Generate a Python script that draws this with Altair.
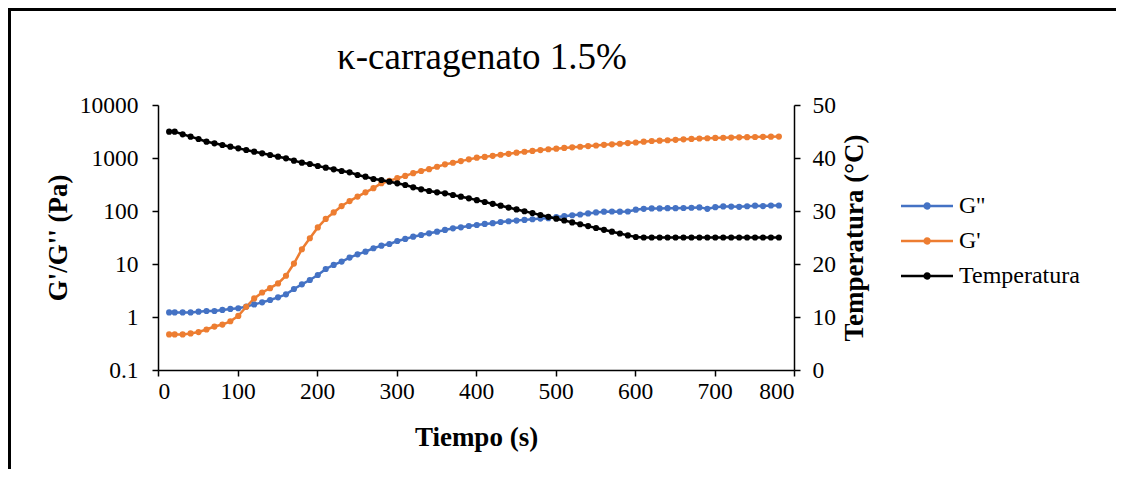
import altair as alt
import pandas as pd

# ---- data ----
time_s = [14, 21, 31, 41, 51, 61, 71, 81, 91, 101,
          111, 121, 131, 141, 151, 161, 171, 181, 191, 201,
          211, 221, 231, 241, 251, 261, 271, 281, 291, 301,
          311, 321, 331, 341, 351, 361, 371, 381, 391, 401,
          411, 421, 431, 441, 451, 461, 471, 481, 491, 501,
          511, 521, 531, 541, 551, 561, 571, 581, 591, 601,
          611, 621, 631, 641, 651, 661, 671, 681, 691, 701,
          711, 721, 731, 741, 751, 761, 771, 781]

g_loss = [1.22, 1.22, 1.22, 1.22, 1.26, 1.30, 1.30, 1.36, 1.42, 1.46,
          1.57, 1.73, 1.89, 2.09, 2.35, 2.68, 3.38, 4.13, 4.99, 6.2,
          8.05, 9.6, 11.1, 13.2, 15.2, 17.1, 19.8, 22.2, 23.8, 27.2,
          29.7, 32.8, 35.2, 37.9, 40.7, 43.9, 47.1, 49.2, 52.1, 54.5,
          57, 59, 62, 64, 66, 68, 70, 72, 73, 77,
          80, 83, 86, 90, 94, 97, 98, 97, 98, 106,
          110, 112, 112, 113, 113, 114, 115, 117, 110, 118,
          122, 121, 120, 123, 126, 124, 127, 127]

g_storage = [0.47, 0.47, 0.47, 0.49, 0.52, 0.58, 0.66, 0.72, 0.83, 1.05,
             1.56, 2.24, 2.9, 3.5, 4.3, 6.0, 10.2, 19, 30.6, 49,
             71, 94, 124, 154, 187, 225, 270, 334, 369, 416,
             459, 517, 569, 616, 684, 759, 813, 874, 943, 1013,
             1050, 1100, 1150, 1200, 1260, 1310, 1360, 1410, 1460, 1500,
             1550, 1590, 1630, 1680, 1720, 1770, 1810, 1860, 1910, 1960,
             2030, 2090, 2120, 2160, 2200, 2250, 2290, 2330, 2360, 2390,
             2410, 2430, 2450, 2470, 2490, 2510, 2530, 2540]

temperature = [44.97, 44.97, 44.47, 44.03, 43.58, 43.08, 42.77, 42.45, 42.14, 41.82,
               41.51, 41.19, 40.88, 40.57, 40.25, 39.94, 39.5, 39.12, 38.87, 38.49,
               38.18, 37.86, 37.55, 37.3, 36.79, 36.48, 36.04, 35.85, 35.53, 35.22,
               34.91, 34.47, 34.09, 33.77, 33.52, 33.33, 33.02, 32.7, 32.39, 32.05,
               31.7, 31.35, 31.0, 30.65, 30.3, 29.95, 29.6, 29.25, 28.9, 28.55,
               28.2, 27.85, 27.5, 27.15, 26.8, 26.45, 26.1, 25.75, 25.4, 25.1,
               25.0, 25.0, 25.0, 25.0, 25.0, 25.0, 25.0, 25.0, 25.0, 25.0,
               25.0, 25.0, 25.0, 25.0, 25.0, 25.0, 25.0, 25.0]

series_names = ["G''", "G'", "Temperatura"]
series_colors = ["#4472C4", "#ED7D31", "#000000"]

x_ticks = [0, 100, 200, 300, 400, 500, 600, 700, 800]
left_ticks = [0.1, 1, 10, 100, 1000, 10000]
right_ticks = [0, 10, 20, 30, 40, 50]

n = len(time_s)
df_mod = pd.DataFrame({
    "t": time_s + time_s,
    "value": g_loss + g_storage,
    "series": [series_names[0]] * n + [series_names[1]] * n,
})
df_temp = pd.DataFrame({"t": time_s, "temp": temperature, "series": [series_names[2]] * n})

FONT = "Liberation Serif"

legend_path = ("M-2.476,0H2.476"
               "M0.229,0A0.229,0.229,0,1,1,-0.229,0A0.229,0.229,0,1,1,0.229,0"
               "M0.114,0A0.114,0.114,0,1,1,-0.114,0A0.114,0.114,0,1,1,0.114,0")

color = alt.Color(
    "series:N",
    scale=alt.Scale(domain=series_names, range=series_colors),
    legend=alt.Legend(
        title=None, orient="none", legendX=757, legendY=89, padding=0,
        symbolType=legend_path, symbolSize=441, symbolStrokeWidth=2.5,
        labelFont=FONT, labelFontSize=24, labelColor="black", labelOffset=20,
        rowPadding=11,
    ),
)

x_enc = alt.X(
    "t:Q",
    scale=alt.Scale(domain=[0, 800], nice=False),
    axis=alt.Axis(values=x_ticks, title="Tiempo (s)", labelPadding=3,
                  titleY=67, titleBaseline="middle"),
)

point_def = alt.OverlayMarkDef(filled=True, size=38)

left = alt.Chart(df_mod).mark_line(strokeWidth=2.5, point=point_def).encode(
    x=x_enc,
    y=alt.Y("value:Q",
            scale=alt.Scale(type="log", domain=[0.1, 10000], nice=False),
            axis=alt.Axis(values=left_ticks, format="~g", title="G'/G'' (Pa)",
                          labelPadding=14, titleX=-100, titleY=132.5,
                          titleAngle=-90, titleAlign="center", titleBaseline="middle")),
    color=color,
)

right = alt.Chart(df_temp).mark_line(strokeWidth=2.5, point=point_def).encode(
    x=x_enc,
    y=alt.Y("temp:Q",
            scale=alt.Scale(domain=[0, 50], nice=False),
            axis=alt.Axis(orient="right", values=right_ticks, title="Temperatura (°C)",
                          labelPadding=12, titleX=60, titleY=132.5,
                          titleAngle=-90, titleAlign="center", titleBaseline="middle")),
    color=color,
)

frame = alt.Chart(pd.DataFrame({"k": [0]})).mark_rect(
    fillOpacity=0, stroke="black", strokeWidth=3
).encode(
    x=alt.value(-148.5), x2=alt.value(1400),
    y=alt.value(-95.5), y2=alt.value(800),
)

chart = alt.layer(frame, left, right).resolve_scale(y="independent").properties(
    width=636, height=265,
    padding={"left": 150, "top": 97, "right": 322, "bottom": 99},
    autosize=alt.AutoSizeParams(type="none"),
    title=alt.TitleParams(
        "κ-carragenato 1.5%", font=FONT, fontSize=37, fontWeight="normal",
        color="black", anchor="middle", frame="group", baseline="alphabetic",
        offset=-98, dx=6,
    ),
).configure_view(stroke=None).configure_axis(
    labelFont=FONT, labelFontSize=23.5, labelColor="black",
    titleFont=FONT, titleFontSize=27, titleFontWeight="bold", titleColor="black",
    domainColor="black", domainWidth=1.5, tickColor="black", tickWidth=1.5,
    tickSize=6, grid=False,
)

chart.save("out.html", embed_options={"renderer": "svg", "actions": False})
